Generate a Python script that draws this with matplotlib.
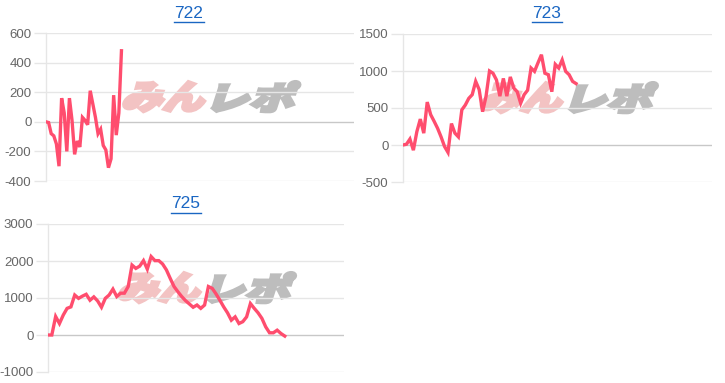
import numpy as np
import matplotlib
matplotlib.use("Agg")
import matplotlib.pyplot as plt
from matplotlib.textpath import TextPath
from matplotlib.font_manager import FontProperties
from matplotlib.patches import PathPatch
from matplotlib.transforms import Affine2D, IdentityTransform
from matplotlib.lines import Line2D

# ---- data ----
titles = ["722", "723", "725"]

vals_722 = [0, -5, -80, -95, -150, -300, 160, 60, -200, 160, 10, -220, -130, -170,
            30, 10, -20, 210, 120, 30, -80, -50, -160, -190, -310, -250, 180, -90,
            60, 480]

vals_723 = [0, 10, 80, -70, 180, 350, 160, 580, 410, 320, 225, 110, -20, -100, 290,
            160, 110, 475, 540, 630, 680, 860, 750, 450, 660, 1000, 970, 880, 660,
            900, 660, 920, 770, 720, 565, 680, 740, 1040, 995, 1110, 1220, 970, 950,
            720, 1090, 1040, 1150, 995, 950, 860, 830]

vals_725 = [0, 0, 500, 310, 540, 720, 760, 1080, 990, 1050, 1100, 940, 1030, 920,
            750, 990, 1080, 1240, 1040, 1130, 1130, 1310, 1890, 1800, 1860, 2010,
            1780, 2120, 2010, 2010, 1920, 1760, 1530, 1310, 1170, 1040, 930, 840, 750,
            810, 720, 810, 1310, 1260, 1110, 940, 760, 600, 400, 490, 310, 360, 490,
            850, 720, 600, 450, 220, 60, 60, 130, 40, -30]

yticks_722 = [-400, -200, 0, 200, 400, 600]
yticks_723 = [-500, 0, 500, 1000, 1500]
yticks_725 = [-1000, 0, 1000, 2000, 3000]

series = [vals_722, vals_723, vals_725]
yticks = [yticks_722, yticks_723, yticks_725]
end_frac = [0.245, 0.56, 0.80]

plt.rcParams["font.family"] = ["Liberation Sans", "DejaVu Sans"]

W, H = 725, 383
fig = plt.figure(figsize=(W / 100, H / 100), dpi=100)

# axes boxes in pixels (left, top, right, bottom)
boxes = [(46, 33, 354, 181), (403, 34, 712, 182), (48, 224, 344, 372)]
title_pos = [(189, 13), (547, 13), (186, 204)]

LINE = "#ff4d6e"
GRID = "#e6e6e6"
ZERO = "#c8c8c8"
TICKC = "#666666"
TITLEC = "#1a66c2"

jp = FontProperties(family="Noto Sans CJK JP", weight="black")


def add_logo(cx, cy):
    # cx, cy in pixel coords from top-left
    parts = [("みん", "#f3c3c3"), ("レポ", "#bdbdbd")]
    x0 = cx - 88
    for txt, col in parts:
        tp = TextPath((0, 0), txt, size=30, prop=jp)
        bb = tp.get_extents()
        tr = (Affine2D().translate(-bb.x0, -bb.y0)
              .scale(80 / bb.width, 30 / bb.height)
              .skew_deg(18, 0)
              .translate(x0, H - cy - 15))
        patch = PathPatch(tr.transform_path(tp), facecolor=col, edgecolor=col,
                          lw=2.4, transform=IdentityTransform(), zorder=-5)
        fig.patches.append(patch)
        x0 += 90


for i, (vals, ytk, box, frac) in enumerate(zip(series, yticks, boxes, end_frac)):
    l, t, r, b = box
    ax = fig.add_axes([l / W, (H - b) / H, (r - l) / W, (b - t) / H])
    ax.set_facecolor("none")
    x = np.arange(len(vals))
    ax.plot(x, vals, color=LINE, lw=2.4, solid_joinstyle="miter", zorder=3)
    ax.set_xlim(0, (len(vals) - 1) / frac)
    ax.set_ylim(ytk[0], ytk[-1])
    ax.set_yticks(ytk)
    ax.set_yticklabels([str(v) for v in ytk])
    ax.set_xticks([])
    for yv in ytk:
        ax.axhline(yv, color=ZERO if yv == 0 else GRID, lw=1.0, zorder=0)
    for s in ["top", "right", "bottom"]:
        ax.spines[s].set_visible(False)
    ax.spines["left"].set_color(GRID)
    ax.spines["left"].set_linewidth(1.0)
    ax.tick_params(axis="y", length=9, width=1.0, color=GRID, labelcolor=TICKC,
                   labelsize=9.5, pad=1.5)
    # watermark logo
    add_logo(l + 0.53 * (r - l), t + 0.43 * (b - t))

    # title with underline
    tx, ty = title_pos[i]
    fig.text(tx / W, 1 - ty / H, titles[i], color=TITLEC, fontsize=12.5,
             ha="center", va="center")
    fig.add_artist(Line2D([(tx - 15) / W, (tx + 15) / W],
                          [1 - (ty + 8.5) / H, 1 - (ty + 8.5) / H],
                          color=TITLEC, lw=1.0, transform=fig.transFigure))

fig.savefig("out.png", dpi=100)
